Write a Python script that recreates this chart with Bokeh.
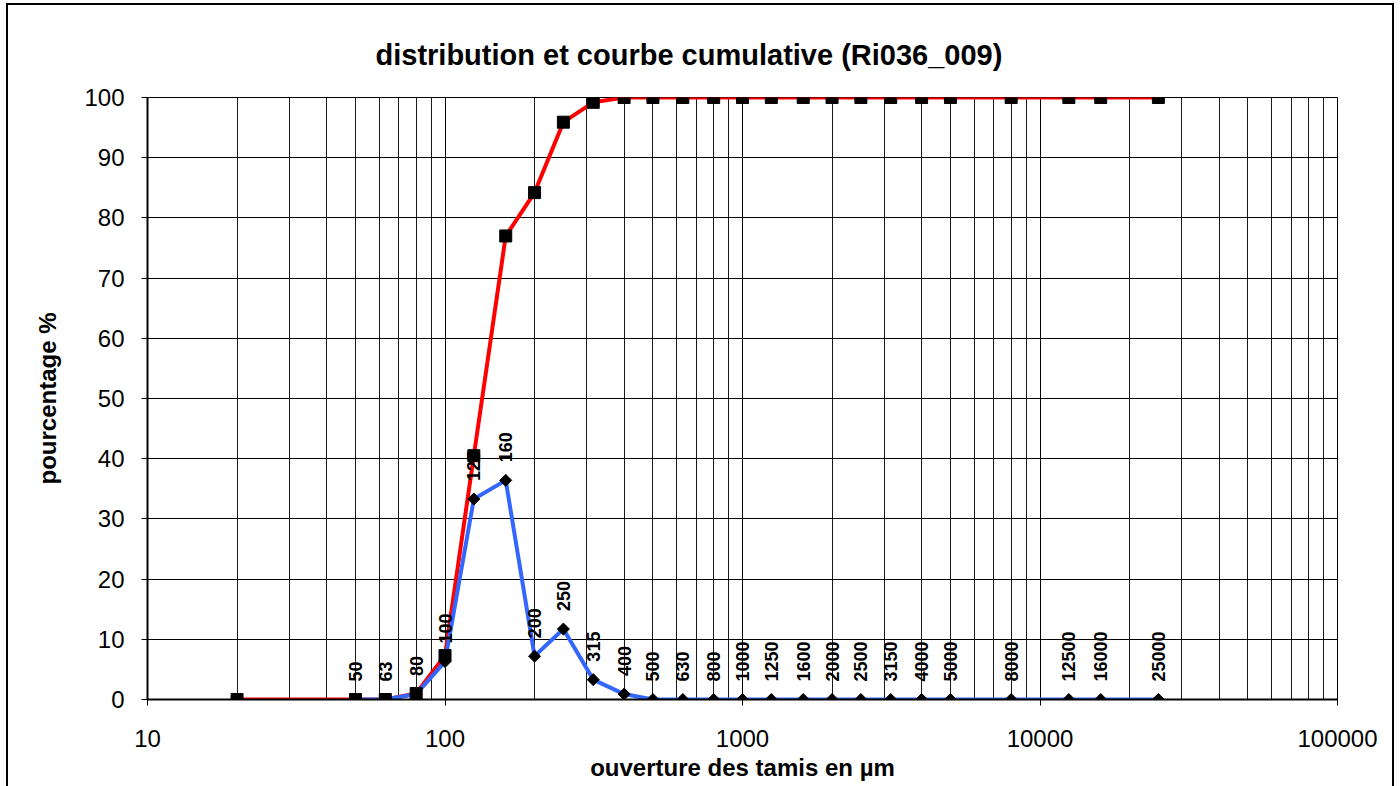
import numpy as np
from bokeh.plotting import figure
from bokeh.models import (FixedTicker, ColumnDataSource, Range1d,
                          CustomJSTickFormatter, InlineStyleSheet)
from bokeh.core.properties import value
from bokeh.embed import file_html
from bokeh.resources import INLINE

# ---- data ----
cum_x = [20, 50, 63, 80, 100, 125, 160, 200, 250, 315, 400, 500, 630, 800, 1000,
         1250, 1600, 2000, 2500, 3150, 4000, 5000, 8000, 12500, 16000, 25000]
cum_y = [0, 0, 0, 1.0, 7.3, 40.5, 77.0, 84.2, 95.9, 99.2, 100, 100, 100, 100, 100,
         100, 100, 100, 100, 100, 100, 100, 100, 100, 100, 100]
dist_x = [50, 63, 80, 100, 125, 160, 200, 250, 315, 400, 500, 630, 800, 1000,
          1250, 1600, 2000, 2500, 3150, 4000, 5000, 8000, 12500, 16000, 25000]
dist_y = [0, 0, 0.9, 6.3, 33.3, 36.4, 7.2, 11.7, 3.3, 0.9, 0, 0, 0, 0,
          0, 0, 0, 0, 0, 0, 0, 0, 0, 0, 0]
dist_labels = [str(v) for v in dist_x]
y_ticks = [0, 10, 20, 30, 40, 50, 60, 70, 80, 90, 100]
x_major = [10, 100, 1000, 10000, 100000]
x_minor = [m * d for d in [10, 100, 1000, 10000] for m in range(2, 10)]

FONT = "Liberation Sans"

p = figure(width=1400, height=786, x_axis_type="log",
           x_range=Range1d(10, 100000), y_range=Range1d(0, 100),
           output_backend="svg", toolbar_location=None,
           min_border_left=147, min_border_right=63,
           min_border_top=97, min_border_bottom=87)
p.stylesheets = [InlineStyleSheet(css="""
:host::after {
  content: "";
  position: absolute;
  left: 6px; top: 3px; right: 6px; bottom: 0px;
  border-style: solid;
  border-color: black;
  border-width: 2px 2px 0px 2px;
  pointer-events: none;
  z-index: 1000;
}
""")]

p.title.text = "distribution et courbe cumulative (Ri036_009)"
p.title.text_font = FONT
p.title.text_font_size = "29px"
p.title.text_font_style = "bold"
p.title.text_color = "black"
p.title.align = "left"
p.title.offset = 228
p.title.standoff = 54

p.outline_line_color = "black"
p.outline_line_width = 1

# axes
p.xaxis.ticker = FixedTicker(ticks=x_major, minor_ticks=x_minor)
p.yaxis.ticker = FixedTicker(ticks=y_ticks)
for ax in (p.xaxis[0], p.yaxis[0]):
    ax.axis_line_color = "black"
    ax.axis_line_width = 2
    ax.major_tick_line_color = "black"
    ax.major_tick_out = 6
    ax.major_tick_in = 0
    ax.minor_tick_out = 0
    ax.minor_tick_in = 0
    ax.major_label_text_font = FONT
    ax.major_label_text_font_size = "24px"
    ax.major_label_text_color = "black"
    ax.axis_label_text_font = FONT
    ax.axis_label_text_font_size = "24px"
    ax.axis_label_text_font_style = "bold"
    ax.axis_label_text_color = "black"
p.xaxis.formatter = CustomJSTickFormatter(code="return String(Math.round(tick));")
p.xaxis.axis_label = "ouverture des tamis en µm"
p.yaxis.axis_label = "pourcentage %"
p.xaxis.major_label_standoff = 24
p.yaxis.major_label_standoff = 17
p.xaxis.axis_label_standoff = 4
p.yaxis.axis_label_standoff = 20

p.xgrid.grid_line_color = "#000000"
p.xgrid.grid_line_width = 1
p.xgrid.minor_grid_line_color = "#1a1a1a"
p.xgrid.minor_grid_line_width = 1
p.ygrid.grid_line_color = "#000000"
p.ygrid.grid_line_width = 1

dsrc = ColumnDataSource(dict(x=dist_x, y=dist_y, t=dist_labels))
csrc = ColumnDataSource(dict(x=cum_x, y=cum_y))

p.line("x", "y", source=csrc, line_color="#FF0000", line_width=4)
p.line("x", "y", source=dsrc, line_color="#3366FF", line_width=4)
p.scatter("x", "y", source=dsrc, marker="square", angle=np.pi / 4, size=8.5,
          fill_color="black", line_color="black")
p.text("x", "y", text="t", source=dsrc, angle=np.pi / 2, y_offset=-18,
       text_align="left", text_baseline="middle",
       text_font=value(FONT), text_font_size="18px", text_font_style="bold",
       text_color="black")
p.scatter("x", "y", source=csrc, marker="square", size=12,
          fill_color="black", line_color="black")

open("out.html", "w").write(file_html(p, INLINE))
